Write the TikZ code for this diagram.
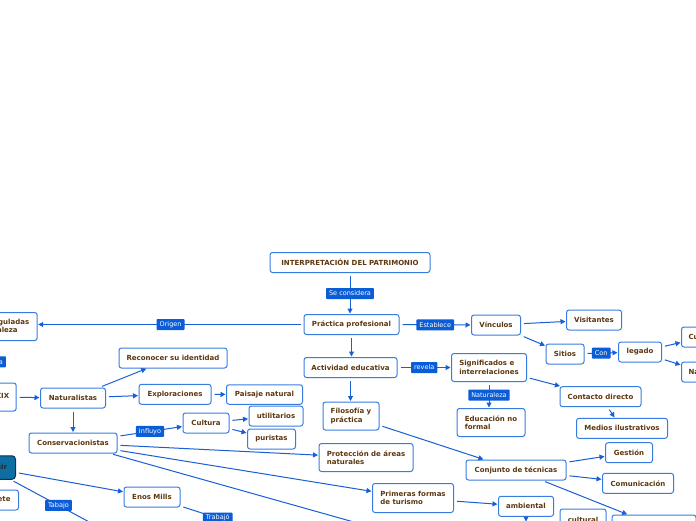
\documentclass[tikz,border=0pt]{standalone}
\usepackage{fontspec}
\setmainfont{DejaVu Sans}
\usetikzlibrary{arrows.meta}
\definecolor{bordc}{RGB}{55,125,225}
\definecolor{lblc}{RGB}{10,92,215}
\definecolor{linec}{RGB}{25,95,212}
\definecolor{txtc}{RGB}{92,55,15}
\definecolor{muirc}{RGB}{12,110,162}
\definecolor{muird}{RGB}{8,50,80}
\begin{document}
\begin{tikzpicture}[x=1pt,y=-1pt,
  box/.style={draw=bordc, line width=1pt, rounded corners=2.5pt, fill=white, text=txtc,
    font=\fontsize{7}{8.5}\selectfont\bfseries, inner sep=0pt, minimum height=20pt},
  boxtwo/.style={box, minimum height=28pt, align=left},
  lbl/.style={fill=lblc, text=white, font=\fontsize{6.5}{7}\selectfont, inner xsep=3pt,
    inner ysep=0pt, minimum height=11pt, rounded corners=0.8pt},
  conn/.style={draw=linec, line width=1pt, -{Triangle[length=5pt,width=5pt]},
    shorten <=3pt, shorten >=0.5pt}]
\useasboundingbox (0,0) rectangle (696,520);
\clip (0,0) rectangle (696,520);
\fill[white] (0,0) rectangle (696,520);

% nodes
\node[box, minimum width=160pt] (interp) at (350,262.5) {INTERPRETACIÓN DEL PATRIMONIO};
\node[box, minimum width=95pt] (prac) at (351.5,324.5) {Práctica profesional};
\node[box, minimum width=93pt] (act) at (350.5,367.5) {Actividad educativa};
\node[box, minimum width=49pt] (vinc) at (496,325) {Vínculos};
\node[box, minimum width=55pt] (visit) at (594,320) {Visitantes};
\node[box, minimum width=38pt] (sitios) at (565,354) {Sitios};
\node[box, minimum width=43pt] (legado) at (640,352) {legado};
\node[box, anchor=west, inner xsep=7pt] (cult) at (681,337) {Cultural};
\node[box, anchor=west, inner xsep=7pt] (nat) at (681,372) {Natural};
\node[boxtwo, minimum width=75pt] (sig) at (489,367.5) {Significados e\\interrelaciones};
\node[boxtwo, minimum width=68pt] (edu) at (491,422.5) {Educación no\\formal};
\node[box, minimum width=81pt] (contacto) at (600.5,396.7) {Contacto directo};
\node[box, minimum width=91pt] (medios) at (622,428.3) {Medios ilustrativos};
\node[box, minimum width=47pt] (gestion) at (629,452.7) {Gestión};
\node[box, minimum width=71pt] (comun) at (638,483.3) {Comunicación};
\node[box, minimum width=100pt] (conj) at (516,470) {Conjunto de técnicas};
\node[box, minimum width=55pt] (amb) at (526,506.3) {ambiental};
\node[box, minimum width=46pt, minimum height=22pt] (cultu) at (583,520) {cultural};
\node[box, minimum width=84pt] (brn) at (654,525) {};
\node[boxtwo, minimum width=56pt] (filo) at (351,416) {Filosofía y\\práctica};
\node[box, minimum width=76pt, minimum height=19.5pt] (paisaje) at (264.5,394.5) {Paisaje natural};
\node[box, minimum width=54pt] (util) at (276,416) {utilitarios};
\node[box, minimum width=48pt] (puri) at (271.5,439) {puristas};
\node[boxtwo, minimum width=94pt] (prot) at (366,457.5) {Protección de áreas\\naturales};
\node[boxtwo, minimum width=81pt, minimum height=29pt] (prim) at (413,498) {Primeras formas\\de turismo};
\node[box, minimum width=46pt] (cultura) at (206,423) {Cultura};
\node[box, minimum width=72pt] (explor) at (175,394.3) {Exploraciones};
\node[box, minimum width=65pt] (natur) at (73,398) {Naturalistas};
\node[box, minimum width=88pt] (cons) at (73,443) {Conservacionistas};
\node[box, minimum width=108pt] (recon) at (173,358) {Reconocer su identidad};
\node[box, minimum width=56pt] (enos) at (152,497) {Enos Mills};
\node[box, anchor=east, inner xsep=7pt, minimum height=28pt] (xix) at (16.7,397) {Siglo XIX};
\node[boxtwo, anchor=east, inner xsep=8pt] (gul) at (37.7,326.5) {Tierras reguladas\\por naturaleza};
\node[box, anchor=east, inner xsep=8.5pt, minimum height=23.5pt, fill=muirc, draw=muird,
  text=black!85, rounded corners=3.5pt] (muir) at (16,467.5) {John Muir};
\node[box, anchor=east, inner xsep=8pt] (ete) at (19,500) {Jinete};

\coordinate (off1) at (400,535);
\coordinate (off2) at (106,531);
\coordinate (off3) at (255,530);
\coordinate (off4) at (526,522);

% connectors
\draw[conn] (interp.south) -- node[lbl]{Se considera} (interp.south |- prac.north);
\draw[conn] (prac.south) -- (prac.south |- act.north);
\draw[conn] (act.south) -- (act.south |- filo.north);
\draw[conn] (prac.west) -- node[lbl]{Origen} (prac.west -| gul.east);
\draw[conn] (prac) -- node[lbl]{Establece} (vinc);
\draw[conn] (vinc) -- (visit);
\draw[conn] (vinc) -- (sitios);
\draw[conn] (sitios) -- node[lbl]{Con} (legado);
\draw[conn] (legado) -- (cult);
\draw[conn] (legado) -- (nat);
\draw[conn] (act) -- node[lbl]{revela} (sig);
\draw[conn] (sig.south) -- node[lbl]{Naturaleza} (sig.south |- edu.north);
\draw[conn] (sig) -- (contacto);
\draw[conn] (contacto) -- (medios);
\draw[conn] (filo) -- (conj);
\draw[conn] (conj) -- (gestion);
\draw[conn] (conj) -- (comun);
\draw[conn] (conj) -- (brn);
\draw[conn] (prim) -- (amb);
\draw[conn, shorten <=0pt] (amb.south) -- (off4);
\draw[conn] (natur) -- (recon);
\draw[conn] (natur) -- (explor);
\draw[conn] (explor) -- (paisaje);
\draw[conn] (natur.south) -- (cons.north);
\draw[conn] (xix) -- (natur);
\draw[conn] (cons) -- node[lbl]{Influyo} (cultura);
\draw[conn] (cultura) -- (util);
\draw[conn] (cultura) -- (puri);
\draw[conn] (cons) -- (prot);
\draw[conn] (cons) -- (prim);
\draw[conn] (cons) -- (off1);
\draw[conn] (muir) -- (enos);
\draw[conn] (muir) -- node[lbl]{Tabajo} (off2);
\draw[conn] (enos) -- node[lbl]{Trabajó} (off3);
\draw[conn] (gul) -- node[lbl]{Época} (xix);
\end{tikzpicture}
\end{document}
